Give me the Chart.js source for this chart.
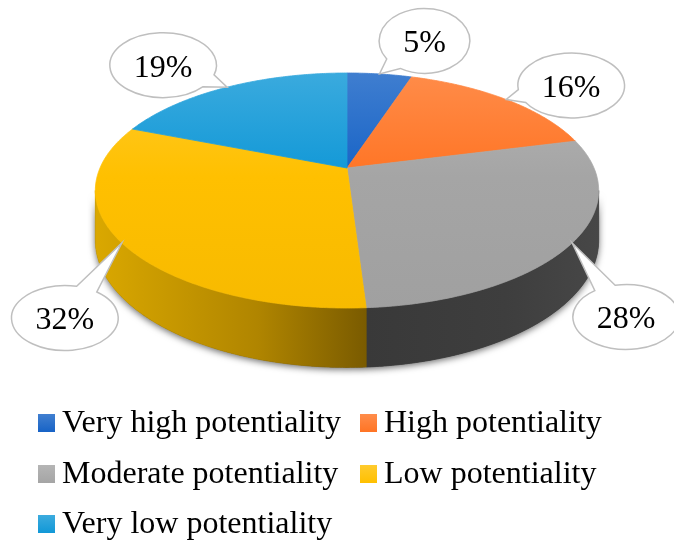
<!DOCTYPE html>
<html>
<head>
<meta charset="utf-8">
<script src="https://cdn.jsdelivr.net/npm/chart.js@4/dist/chart.umd.min.js"></script>
<style>
  html, body { margin: 0; padding: 0; background: #fff; }
  #wrap { position: relative; width: 674px; height: 544px; overflow: hidden; }
  #pie { position: absolute; left: 0; top: 0; }
  .item {
    position: absolute;
    font-family: "Liberation Serif", "Times New Roman", serif;
    font-size: 32px; line-height: 32px;
    color: #000; white-space: nowrap;
  }
  .item i { display: inline-block; width: 17px; height: 18px; margin-right: 7px; vertical-align: baseline; }
</style>
</head>
<body>
<div id="wrap">
  <canvas id="pie" width="674" height="544"></canvas>
  <div id="legend"></div>
</div>
<script>
// Share of area by potentiality class (percent), clockwise from 12 o'clock
const categories = ['Very high potentiality', 'High potentiality', 'Moderate potentiality', 'Low potentiality', 'Very low potentiality'];
const shares = [5, 16, 28, 32, 19];

// Slice styling
const FACE_COLORS = ['#1763c6', '#ff7424', '#a5a5a5', '#ffc000', '#1198d7'];
const SIDE_SHADES = [
  ['#0e4aa0', '#0b4290', '#083a7d'],
  ['#c05a18', '#a84e14', '#8a400f'],
  ['#393939', '#3e3e3e', '#474747'],
  ['#daa800', '#b08500', '#7a5b00'],
  ['#0d7fb5', '#0b6fa0', '#095e86']
];
// Callout bubble placement relative to the slice rim point it points at
const CALLOUT_OFFSETS = [[45, -33], [65, -14], [54, 74], [-57, 75], [-64, -22]];

// Tilted-disc projection (perspective foreshortening toward the back)
const PERSP = -0.1915, RX = 247, RY = 113.2, DEPTH = 48;

function project(cx, cy, t, s) {
  const u = s * Math.sin(t), v = -s * Math.cos(t);
  const w = 1 + PERSP * v;
  return { x: cx + RX * u / w, y: cy + RY * v / w, w };
}

function hexToRgb(h) {
  const n = parseInt(h.slice(1), 16);
  return [(n >> 16) & 255, (n >> 8) & 255, n & 255];
}
function mix(h, target, amt) {
  const c = hexToRgb(h);
  const r = c.map(v => Math.round(v + (target - v) * amt));
  return `rgb(${r[0]},${r[1]},${r[2]})`;
}

// Visible part of the rim (front half between the two silhouette points)
const T_RIGHT = Math.acos(PERSP);             // ~101 deg
const T_LEFT = 2 * Math.PI - Math.acos(PERSP); // ~259 deg

function slicePath(ctx, cx, cy, t0, t1) {
  const n = Math.max(2, Math.ceil((t1 - t0) / (Math.PI / 360)));
  ctx.beginPath();
  ctx.moveTo(cx, cy);
  for (let k = 0; k <= n; k++) {
    const p = project(cx, cy, t0 + (t1 - t0) * k / n, 1);
    ctx.lineTo(p.x, p.y);
  }
  ctx.closePath();
}

function sidePath(ctx, cx, cy, t0, t1) {
  const n = Math.max(2, Math.ceil((t1 - t0) / (Math.PI / 360)));
  const pts = [];
  for (let k = 0; k <= n; k++) pts.push(project(cx, cy, t0 + (t1 - t0) * k / n, 1));
  ctx.beginPath();
  pts.forEach((p, k) => k ? ctx.lineTo(p.x, p.y) : ctx.moveTo(p.x, p.y));
  for (let k = pts.length - 1; k >= 0; k--) ctx.lineTo(pts[k].x, pts[k].y + DEPTH / pts[k].w);
  ctx.closePath();
  return pts;
}

const pie3d = {
  id: 'pie3d',
  beforeDatasetsDraw(chart) {
    const ctx = chart.ctx;
    const arcs = chart.getDatasetMeta(0).data;
    const cx = arcs[0].x, cy = arcs[0].y;
    const ang = arcs.map(a => [a.startAngle + Math.PI / 2, a.endAngle + Math.PI / 2]);

    ctx.save();
    // soft drop shadow under the whole cylinder wall
    ctx.save();
    ctx.shadowColor = 'rgba(0,0,0,0.6)';
    ctx.shadowBlur = 7;
    ctx.shadowOffsetY = 2;
    ctx.fillStyle = '#333';
    sidePath(ctx, cx, cy, T_RIGHT, T_LEFT);
    ctx.fill();
    ctx.restore();

    // cylinder wall for each slice
    ang.forEach(([t0, t1], i) => {
      const a = Math.max(t0, T_RIGHT), b = Math.min(t1, T_LEFT);
      if (b <= a) return;
      const pts = sidePath(ctx, cx, cy, a, b);
      const xs = pts.map(p => p.x);
      const x0 = Math.min(...xs), x1 = Math.max(...xs);
      const g = ctx.createLinearGradient(x0, 0, x1, 0);
      g.addColorStop(0, SIDE_SHADES[i][0]);
      g.addColorStop(0.6, SIDE_SHADES[i][1]);
      g.addColorStop(1, SIDE_SHADES[i][2]);
      ctx.fillStyle = g;
      ctx.strokeStyle = g;
      ctx.lineWidth = 0.8;
      ctx.fill();
      ctx.stroke();
    });

    // top faces
    ang.forEach(([t0, t1], i) => {
      const g = ctx.createLinearGradient(0, cy - 100, 0, cy + 142);
      g.addColorStop(0, mix(FACE_COLORS[i], 255, 0.18));
      g.addColorStop(0.45, FACE_COLORS[i]);
      g.addColorStop(1, mix(FACE_COLORS[i], 0, 0.03));
      slicePath(ctx, cx, cy, t0, t1);
      ctx.fillStyle = g;
      ctx.strokeStyle = g;
      ctx.lineWidth = 0.8;
      ctx.fill();
      ctx.stroke();
    });

    // value callouts
    ctx.font = '32px "Liberation Serif", "Times New Roman", serif';
    ctx.textAlign = 'center';
    ctx.textBaseline = 'alphabetic';
    ang.forEach(([t0, t1], i) => {
      const tip = project(cx, cy, (t0 + t1) / 2, 1);
      const bx = tip.x + CALLOUT_OFFSETS[i][0], by = tip.y + CALLOUT_OFFSETS[i][1];
      const text = shares[i] + '%';
      const tw = ctx.measureText(text).width;
      const rx = tw / 2 + 24, ry = 32.5;
      const phi = Math.atan2((tip.y - by) / ry, (tip.x - bx) / rx);
      const d = 0.21;
      ctx.beginPath();
      ctx.ellipse(bx, by, rx, ry, 0, phi + d, phi - d + 2 * Math.PI);
      ctx.lineTo(tip.x, tip.y);
      ctx.closePath();
      ctx.fillStyle = '#fff';
      ctx.fill();
      ctx.strokeStyle = '#bfbfbf';
      ctx.lineWidth = 1.5;
      ctx.stroke();
      ctx.fillStyle = '#000';
      ctx.fillText(text, bx, by + 11.5);
    });
    ctx.restore();
    return false;
  }
};

new Chart(document.getElementById('pie'), {
  type: 'pie',
  data: {
    labels: categories,
    datasets: [{ data: shares, backgroundColor: FACE_COLORS, borderWidth: 0, hoverOffset: 0 }]
  },
  options: {
    responsive: false,
    animation: false,
    events: [],
    rotation: 0,
    layout: { padding: { left: 179, right: 159, top: 0, bottom: 208 } },
    plugins: { legend: { display: false }, tooltip: { enabled: false } }
  },
  plugins: [pie3d]
});

// Legend: two columns, square swatch before each class name
const legend = document.getElementById('legend');
const COL_X = [38, 360];
categories.forEach((name, i) => {
  const col = i % 2, row = Math.floor(i / 2);
  const item = document.createElement('div');
  item.className = 'item';
  item.style.left = COL_X[col] + 'px';
  item.style.top = (405.2 + row * 50.5) + 'px';
  const sw = document.createElement('i');
  sw.style.background = `linear-gradient(${mix(FACE_COLORS[i], 255, 0.18)}, ${FACE_COLORS[i]})`;
  item.appendChild(sw);
  item.appendChild(document.createTextNode(name));
  legend.appendChild(item);
});
</script>
</body>
</html>
